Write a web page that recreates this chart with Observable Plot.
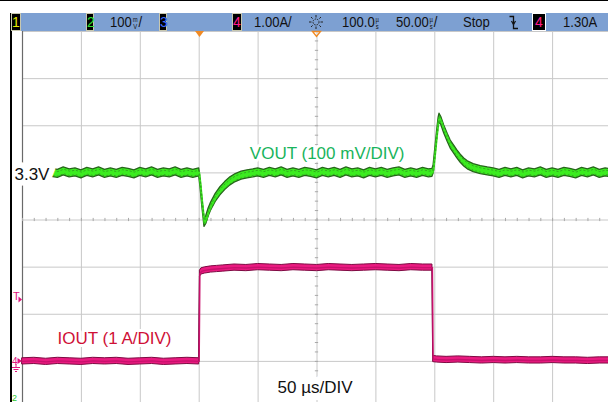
<!DOCTYPE html>
<html><head><meta charset="utf-8">
<script src="https://cdn.jsdelivr.net/npm/d3@7"></script>
<script src="https://cdn.jsdelivr.net/npm/@observablehq/plot@0.6"></script>
<style>
html,body{margin:0;padding:0;background:#fff;}
#wrap{position:relative;width:608px;height:402px;overflow:hidden;background:#fff;font-family:"Liberation Sans",Arial,sans-serif;}
#plot{position:absolute;left:0;top:0;width:612px;height:402px;}
.ov{position:absolute;}
#topline{left:0;top:0;width:608px;height:1px;background:#000;}
#bar{left:10px;top:13px;width:598px;height:18px;background:#7da0d2;}
#lborder{left:10px;top:13px;width:2px;height:389px;background:#000;}
.bt{position:absolute;top:13px;height:18px;line-height:18px;font-size:14.5px;color:#111;transform:scaleX(0.9);transform-origin:left center;white-space:nowrap;}
.u{display:inline-block;font-size:6.5px;line-height:7.5px;vertical-align:middle;text-align:center;margin:0 1px;}
.box{position:absolute;top:13px;height:16px;background:#000;border:1px solid #c8c8b0;font-size:14px;line-height:16px;text-align:center;overflow:visible;}
</style></head>
<body>
<div id="wrap">
  <div id="plot"></div>
  <div class="ov" id="topline"></div>
  <div class="ov" id="bar"></div>
  <div class="ov" id="lborder"></div>
  <div class="box" style="left:11px;width:8px;color:#e8e800;">1</div>
  <div class="box" style="left:86px;width:6px;color:#2ee02e;">2</div>
  <div class="bt" style="left:110px;">100<span class="u">m<br>V</span>/</div>
  <div class="box" style="left:159px;width:6px;color:#3c6cff;">3</div>
  <div class="box" style="left:232px;width:8px;color:#ff1a8c;">4</div>
  <div class="bt" style="left:254px;">1.00A/</div>
  <svg class="ov" style="left:309px;top:15px;" width="14" height="14">
    <circle cx="7" cy="7" r="3" fill="none" stroke="#222" stroke-width="1" stroke-dasharray="1.5 1"/>
    <g stroke="#222" stroke-width="1"><line x1="7" y1="0" x2="7" y2="2.5"/><line x1="7" y1="11.5" x2="7" y2="14"/><line x1="0" y1="7" x2="2.5" y2="7"/><line x1="11.5" y1="7" x2="14" y2="7"/><line x1="2" y1="2" x2="3.6" y2="3.6"/><line x1="10.4" y1="10.4" x2="12" y2="12"/><line x1="2" y1="12" x2="3.6" y2="10.4"/><line x1="10.4" y1="3.6" x2="12" y2="2"/></g>
  </svg>
  <div class="bt" style="left:342px;">100.0<span class="u">µ<br>s</span></div>
  <div class="bt" style="left:396px;">50.00<span class="u">µ<br>s</span>/</div>
  <div class="bt" style="left:463px;">Stop</div>
  <svg class="ov" style="left:509px;top:15px;" width="10" height="15"><path d="M0.5,1.5 H4.5 V13.5 H9" fill="none" stroke="#111" stroke-width="1.3"/><path d="M2.5,6 L4.5,9.5 L6.5,6" fill="none" stroke="#111" stroke-width="1.2"/></svg>
  <div class="box" style="left:532px;width:12px;color:#ff1a8c;border-color:#fff;">4</div>
  <div class="bt" style="left:563px;">1.30A</div>
  <svg class="ov" style="left:0;top:0;pointer-events:none;" width="608" height="402">
    <polygon points="195,31 204,31 199.5,37" fill="#f08a24"/>
    <polygon points="312.5,31.5 320.5,31.5 316.5,36.5" fill="none" stroke="#f08a24" stroke-width="1.4"/>
    <text x="13" y="300" font-size="11" fill="#e0147c" font-family="Liberation Sans, Arial">T</text>
    <polygon points="18.5,296.5 22,299.5 18.5,302.5" fill="#e0147c"/>
    <text x="12" y="364.5" font-size="10" fill="#e0147c" font-family="Liberation Sans, Arial">4</text>
    <polygon points="17.5,358 22,361 17.5,364" fill="#e0147c"/>
    <g stroke="#e0147c" stroke-width="1"><line x1="16" y1="364" x2="16" y2="367"/><line x1="12" y1="367.5" x2="20" y2="367.5"/><line x1="13.5" y1="369.5" x2="18.5" y2="369.5"/><line x1="15" y1="371.5" x2="17" y2="371.5"/></g>
    <text x="12" y="400.5" font-size="9" fill="#2ec82e" font-family="Liberation Sans, Arial">2</text>
  </svg>
</div>
<script>
// ---- data ----
const gridTime = [0,50,100,150,200,250,300,350,400,450,500];   // µs, 50 µs/div
const gridDiv = [-4,-3,-2,-1,0,1,2,3,4];

// VOUT deviation from 3.3 V (mV), ch2 at 100 mV/div, 3.3 V at +1 div
const voutTime = [0,5,10,15,20,25,30,35,40,45,50,55,60,65,70,75,80,85,90,95,100,105,110,115,120,125,130,135,140,145,150,
  151,152.5,154.5,156,158,160,164,168,172,176.5,181,186,191,196,200,
  205,210,215,220,225,230,235,240,245,250,255,260,265,270,275,280,285,290,295,300,305,310,315,320,325,330,335,340,345,348,
  349,350.5,352,353.2,354,355.5,358,361,363.5,366,369,372,375,378,383,389,395,400,
  405,410,415,420,425,430,435,440,445,450,455,460,465,470,475,480,485,490,495,500];
const voutMv = [2,-2,1,-3,2,0,-2,3,-1,1,-3,2,-1,3,-2,1,-2,2,0,-3,2,-1,3,-2,1,-1,3,-2,1,-2,1,
  -20,-60,-106,-100,-84,-72,-53,-39,-28,-18,-11,-6,-3,-1,1,
  -2,2,-1,3,-2,1,-2,2,0,-3,2,-1,2,-2,3,-1,1,-3,2,-1,2,-2,1,3,-2,1,-2,2,-1,0,
  8,45,82,108,117,110,92,74,60,51,40,30,22,16,10,6,3,1,
  -2,2,-1,2,-3,1,-1,3,-2,1,-2,2,0,-3,2,-1,3,-2,1,-1];

// IOUT (A), ch4 at 1 A/div, 0 A at -3 div
const ioutTime = [0,10,20,30,40,50,60,70,80,90,100,110,120,130,140,150,
  150.6,152,155,160,165,170,180,190,200,210,220,230,240,250,260,270,280,290,300,310,320,330,340,348,
  348.6,352,360,370,380,390,400,410,420,430,440,450,460,470,480,490,500];
const ioutA = [0,0.01,-0.01,0.01,0,-0.01,0.01,0,0.01,-0.01,0,0.01,-0.01,0,0.01,0,
  1.86,1.91,1.93,1.95,1.96,1.97,1.99,1.98,2.00,1.99,1.98,2.00,1.99,1.98,2.00,1.99,1.98,1.99,2.00,1.99,1.98,2.00,1.99,1.99,
  0.05,0.04,0.03,0.04,0.03,0.02,0.03,0.02,0.03,0.02,0.02,0.03,0.02,0.02,0.01,0.02,0.02];

const labelText = ["3.3V", "VOUT (100 mV/DIV)", "IOUT (1 A/DIV)", "50 µs/DIV"];

// ---- build ----
const vScale = 100, vOffset = 1;   // mV/div, div position of 3.3 V
const iScale = 1, iOffset = -3;    // A/div, div position of 0 A
const vData = voutTime.map((t, i) => ({t, d: voutMv[i] / vScale + vOffset}));
const iData = ioutTime.map((t, i) => ({t, d: ioutA[i] / iScale + iOffset}));
const hv = 0.085, hi = 0.066;
const minorT = d3.range(0, 501, 10);
const minorD = d3.range(-20, 21).map(k => k / 5);
const font = "Liberation Sans, Arial, sans-serif";

const chart = Plot.plot({
  width: 612, height: 402,
  marginLeft: 22, marginRight: 0, marginTop: 31, marginBottom: 0,
  x: {domain: [0, 500], range: [22, 611], axis: null},
  y: {domain: [-4, 4], range: [408, 31], axis: null},
  style: {background: "transparent", fontFamily: font},
  marks: [
    Plot.ruleX(gridTime, {x: d => d, stroke: "#c8c8c8", strokeWidth: 1, strokeOpacity: 1}),
    Plot.ruleY(gridDiv, {y: d => d, stroke: "#c8c8c8", strokeWidth: 1, strokeOpacity: 1}),
    Plot.ruleX([0], {x: d => d, stroke: "#6a6a6a", strokeWidth: 1.2}),
    Plot.ruleX(minorT, {x: d => d, y1: () => -0.034, y2: () => 0.034, stroke: "#a8a8a8"}),
    Plot.ruleY(minorD, {y: d => d, x1: () => 248.6, x2: () => 251.4, stroke: "#a8a8a8"}),
    Plot.areaY(iData, {x: "t", y1: d => d.d - hi, y2: d => d.d + hi, fill: "#ea1a80", stroke: "#7e0a42", strokeWidth: 1}),
    Plot.line(iData, {x: "t", y: "d", stroke: "#c8106c", strokeWidth: 1.4}),
    Plot.areaY(vData, {x: "t", y1: d => d.d - hv, y2: d => d.d + hv, fill: "#3cec20", stroke: "#26651a", strokeWidth: 1.3}),
    Plot.line(vData, {x: "t", y: "d", stroke: "#3cec20", strokeWidth: 2}),
    Plot.line(vData, {x: "t", y: d => d.d + hv * 0.55, stroke: "#2f9a1e", strokeWidth: 0.8, strokeDasharray: "1.5 2.5"}),
    Plot.line(vData, {x: "t", y: d => d.d - hv * 0.55, stroke: "#2f9a1e", strokeWidth: 0.8, strokeDasharray: "1 3"}),
    Plot.text([labelText[0]], {x: () => -6.8, y: () => 0.97, text: d => d, textAnchor: "start", fontSize: 17, fontFamily: font, fill: "#111", stroke: "white", strokeWidth: 12, paintOrder: "stroke"}),
    Plot.text([labelText[1]], {x: () => 193, y: () => 1.40, text: d => d, textAnchor: "start", fontSize: 17, fontFamily: font, fill: "#19b45c", stroke: "white", strokeWidth: 6, paintOrder: "stroke"}),
    Plot.text([labelText[2]], {x: () => 29.7, y: () => -2.51, text: d => d, textAnchor: "start", fontSize: 17, fontFamily: font, fill: "#cf1036", stroke: "white", strokeWidth: 6, paintOrder: "stroke"}),
    Plot.text([labelText[3]], {x: () => 216.5, y: () => -3.565, text: d => d, textAnchor: "start", fontSize: 17, fontFamily: font, fill: "#111", stroke: "white", strokeWidth: 14, paintOrder: "stroke"})
  ]
});
document.getElementById("plot").appendChild(chart);
</script>
</body></html>
